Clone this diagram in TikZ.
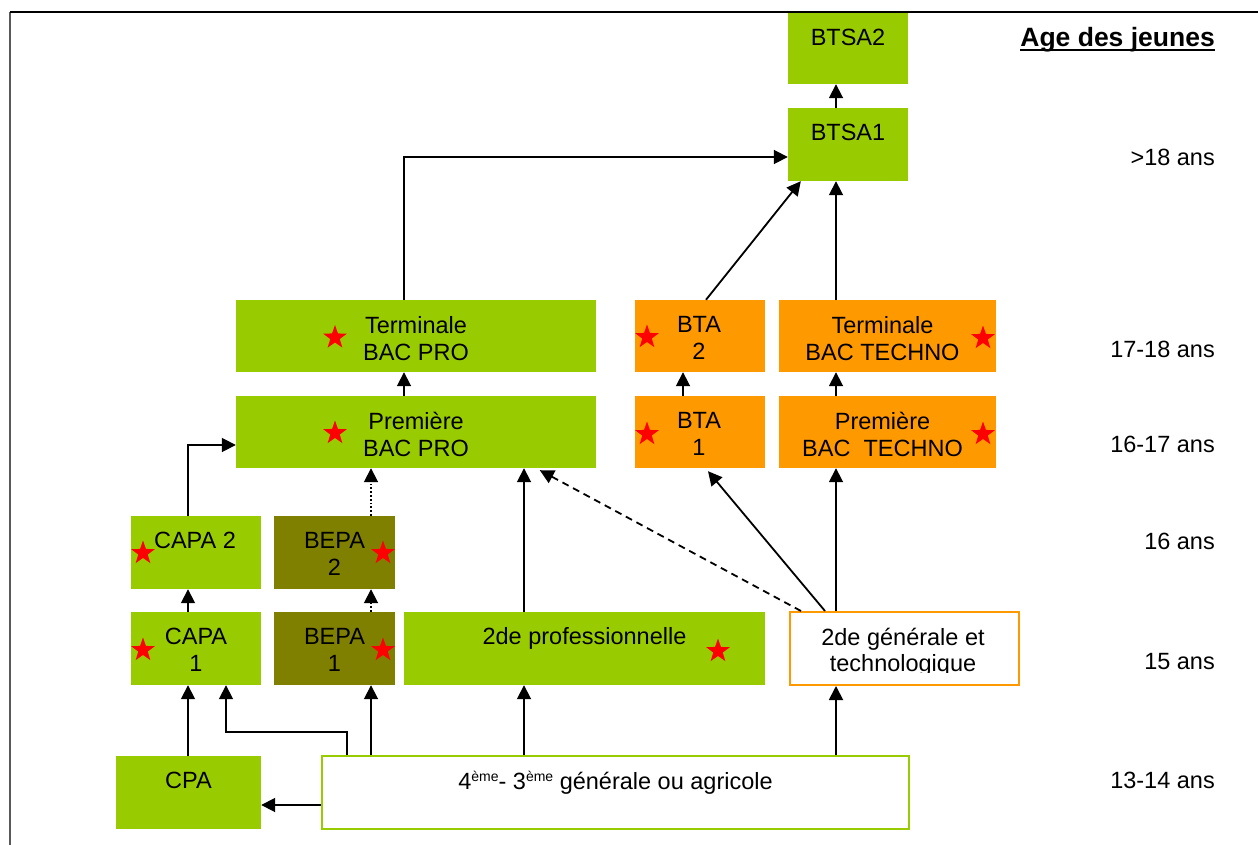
\documentclass[tikz,border=0pt]{standalone}
\usepackage{fontspec}
\setmainfont{Liberation Sans}
\usetikzlibrary{arrows.meta,shapes.geometric,calc}
\definecolor{lgreen}{HTML}{99CC00}
\definecolor{olive}{HTML}{808000}
\definecolor{orng}{HTML}{FF9900}
\begin{document}
\begin{tikzpicture}[x=1pt,y=-1pt,
  font=\fontsize{23.5}{26.5}\selectfont,
  box/.style={inner sep=0, draw=none},
  gbox/.style={box, fill=lgreen},
  obox/.style={box, fill=olive},
  orbox/.style={box, fill=orng},
  txt/.style={anchor=north, inner sep=0, align=center, execute at begin node={\rule{0pt}{22pt}}},
  redstar/.style={star, star points=5, star point ratio=2.5, minimum size=25, inner sep=0, fill=red, draw=none},
  age/.style={anchor=east, inner sep=0, text height=17, text depth=0},
  arr/.style={line width=1.8, -{Triangle[length=14,width=14]}},
  dotarr/.style={arr, dotted},
  dasharr/.style={arr, dash pattern=on 7 off 5}
]
\useasboundingbox (0,0) rectangle (1258,845);
% frame
\draw[line width=1.5, black!65] (10,845) -- (10,12);
\draw[line width=1.5] (10,12) -- (1258,12);

% guide coordinates
\coordinate (v188) at (188,0);
\coordinate (v226) at (226,0);
\coordinate (v347) at (347,0);
\coordinate (v371) at (371,0);
\coordinate (v404) at (404,0);
\coordinate (v524) at (524,0);
\coordinate (v683) at (683,0);
\coordinate (v836) at (836,0);
\coordinate (h157) at (0,157);
\coordinate (h445) at (0,445);
\coordinate (h732) at (0,732);
\coordinate (h805) at (0,805);

% boxes
\node[gbox, minimum width=120, minimum height=71] (btsa2) at (848,48.5) {};
\node[gbox, minimum width=120, minimum height=73] (btsa1) at (848,144.5) {};
\node[gbox, minimum width=360, minimum height=72] (tbp) at (416,336) {};
\node[gbox, minimum width=360, minimum height=72] (pbp) at (416,432) {};
\node[orbox, minimum width=130, minimum height=72] (bta2) at (700,336) {};
\node[orbox, minimum width=130, minimum height=72] (bta1) at (700,432) {};
\node[orbox, minimum width=217, minimum height=72] (tbt) at (887.5,336) {};
\node[orbox, minimum width=217, minimum height=72] (pbt) at (887.5,432) {};
\node[gbox, minimum width=130, minimum height=73] (capa2) at (196,552.5) {};
\node[gbox, minimum width=130, minimum height=73] (capa1) at (196,648.5) {};
\node[obox, minimum width=121, minimum height=73] (bepa2) at (334.5,552.5) {};
\node[obox, minimum width=121, minimum height=73] (bepa1) at (334.5,648.5) {};
\node[gbox, minimum width=361, minimum height=73] (pro2) at (584.5,648.5) {};
\node[box, draw=orng, line width=2, fill=white, minimum width=229, minimum height=73] (gen2) at (904.5,648.5) {};
\node[gbox, minimum width=145, minimum height=73] (cpa) at (188.5,792.5) {};
\node[box, draw=lgreen, line width=2, fill=white, minimum width=587, minimum height=73] (q) at (615.5,792.5) {};

% texts
\node[txt] (tbtsa2) at ([yshift=-10.5]btsa2.north) {BTSA2};
\node[txt] (tbtsa1) at ([yshift=-10.5]btsa1.north) {BTSA1};
\node[txt] (ttbp) at ([yshift=-16.5]tbp.north) {Terminale\\BAC PRO};
\node[txt] (tpbp) at ([yshift=-16.5]pbp.north) {Première\\BAC PRO};
\node[txt] (tbta2) at ([xshift=-1,yshift=-16.5]bta2.north) {BTA\\2};
\node[txt] (tbta1) at ([xshift=-1,yshift=-16.5]bta1.north) {BTA\\1};
\node[txt] (ttbt) at ([xshift=-5,yshift=-16.5]tbt.north) {Terminale\\BAC TECHNO};
\node[txt] (tpbt) at ([xshift=-5,yshift=-16.5]pbt.north) {Première\\BAC\ \ TECHNO};
\node[txt] (tcapa2) at ([xshift=-1,yshift=-10.5]capa2.north) {CAPA 2};
\node[txt] (tcapa1) at ([yshift=-16.5]capa1.north) {CAPA\\1};
\node[txt] (tbepa2) at ([yshift=-16.5]bepa2.north) {BEPA\\2};
\node[txt] (tbepa1) at ([yshift=-16.5]bepa1.north) {BEPA\\1};
\node[txt] (tpro2) at ([yshift=-10.5]pro2.north) {2de professionnelle};
\begin{scope}
  \clip (791,613) rectangle (1018,672);
  \node[txt] (tgen2) at ([xshift=-1.5,yshift=-16.5]gen2.north) {2de générale et\\technologique};
\end{scope}
\node[txt] (tcpa) at ([yshift=-10.5]cpa.north) {CPA};
\node[txt] (tq) at ([yshift=-12]q.north) {4\raisebox{8pt}{\fontsize{14}{14}\selectfont ème}- 3\raisebox{8pt}{\fontsize{14}{14}\selectfont ème} générale ou agricole};

% stars
\node[redstar] (s1) at (335,337.5) {};
\node[redstar] (s2) at (335,433) {};
\node[redstar] (s3) at (647,337) {};
\node[redstar] (s4) at (647,434) {};
\node[redstar] (s5) at (983,338) {};
\node[redstar] (s6) at (983,434) {};
\node[redstar] (s7) at (143,553) {};
\node[redstar] (s8) at (143,650) {};
\node[redstar] (s9) at (383,553) {};
\node[redstar] (s10) at (383,650) {};
\node[redstar] (s11) at (718,651) {};

% ages
\node[anchor=base east, inner sep=0, font=\fontsize{26.5}{29}\selectfont\bfseries] (title) at (1215,46.5) {Age des jeunes};
\draw[line width=2] ([yshift=-3.5]title.base west) -- ([yshift=-3.5]title.base east);
\node[age] (a1) at (1215,157) {>18 ans};
\node[age] (a2) at (1215,348.5) {17-18 ans};
\node[age] (a3) at (1215,444) {16-17 ans};
\node[age] (a4) at (1215,540.5) {16 ans};
\node[age] (a5) at (1215,661) {15 ans};
\node[age] (a6) at (1215,780) {13-14 ans};

% connectors
\draw[arr] (btsa1.north -| v836) -- (btsa2.south -| v836);
\draw[arr] (tbp.north -| v404) |- (btsa1.west |- h157);
\draw[arr] ($(bta2.north)+(6,0)$) -- ($(btsa1.south west)+(13,0)$);
\draw[arr] (tbt.north -| v836) -- (btsa1.south -| v836);
\draw[arr] (pbp.north -| v404) -- (tbp.south -| v404);
\draw[arr] (bta1.north -| v683) -- (bta2.south -| v683);
\draw[arr] (pbt.north -| v836) -- (tbt.south -| v836);
\draw[arr] (capa2.north -| v188) |- (pbp.west |- h445);
\draw[dotarr] (bepa2.north -| v371) -- (pbp.south -| v371);
\draw[arr] (pro2.north -| v524) -- (pbp.south -| v524);
\draw[dasharr] ($(gen2.north west)+(12,0)$) -- ($(pbp.south west)+(304,2)$);
\draw[arr] ($(gen2.north west)+(36,0)$) -- ($(bta1.south)+(8,3)$);
\draw[arr] (gen2.north -| v836) -- (pbt.south -| v836);
\draw[arr] (capa1.north -| v188) -- (capa2.south -| v188);
\draw[dotarr] (bepa1.north -| v371) -- (bepa2.south -| v371);
\draw[arr] (cpa.north -| v188) -- (capa1.south -| v188);
\draw[arr] (q.north -| v347) |- (h732 -| v226) -- (capa1.south -| v226);
\draw[arr] (q.north -| v371) -- (bepa1.south -| v371);
\draw[arr] (q.north -| v524) -- (pro2.south -| v524);
\draw[arr] (q.north -| v836) -- (gen2.south -| v836);
\draw[arr] (q.west |- h805) -- (cpa.east |- h805);
\end{tikzpicture}
\end{document}
